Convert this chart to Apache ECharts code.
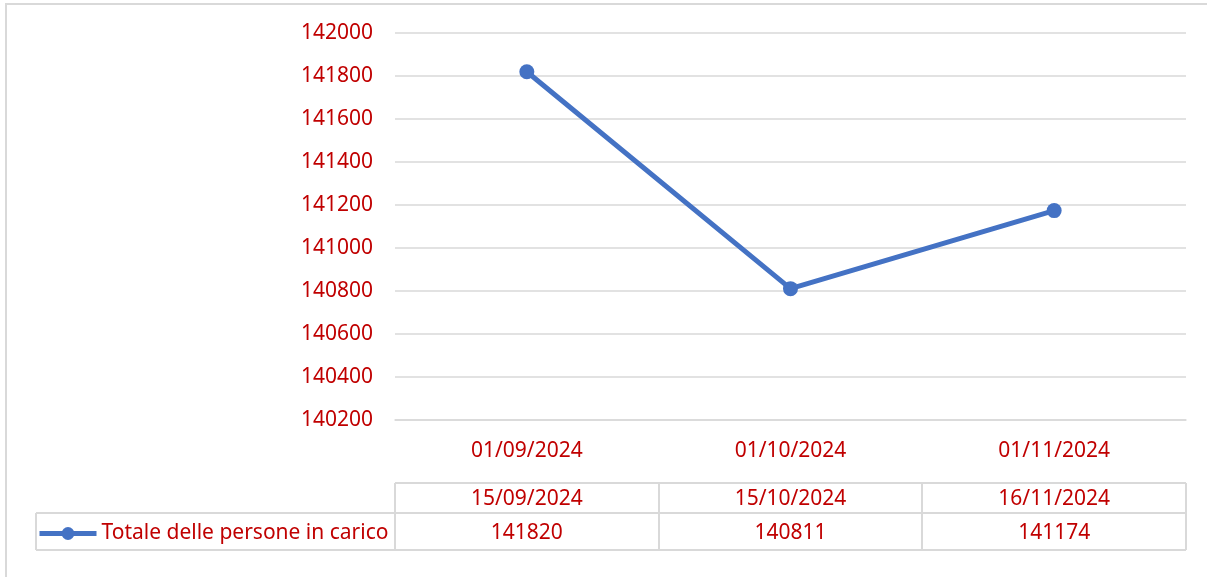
<!DOCTYPE html>
<html lang="it">
<head>
    <meta charset="UTF-8">
    <title>Totale delle persone in carico</title>
    <script src="https://cdn.jsdelivr.net/npm/echarts@6/dist/echarts.min.js"></script>
    <style>
        html, body {
            margin: 0;
            padding: 0;
            background: #fff;
        }
        #box {
            width: 1207px;
            height: 577px;
        }
    </style>
</head>
<body>
<div id="box"></div>
<script>
    // dati del grafico
    var startDates = ['01/09/2024', '01/10/2024', '01/11/2024'];
    var endDates = ['15/09/2024', '15/10/2024', '16/11/2024'];
    var totale = [141820, 140811, 141174];
    var seriesName = 'Totale delle persone in carico';
    var yMin = 140200, yMax = 142000, yStep = 200;

    var red = '#C00000';
    var blue = '#4472C4';
    var gray = '#D9D9D9';
    var font = 'Noto Sans';
    var fs = 21;

    var myChart = echarts.init(document.getElementById('box'));

    var option = {
        animation: false,
        textStyle: { fontFamily: font },
        grid: {
            left: 395,
            right: 21,
            top: 33,
            bottom: 157,
            containLabel: false,
            outerBoundsMode: 'none'
        },
        legend: {
            left: 37,
            top: 523,
            padding: 0,
            itemWidth: 57,
            itemHeight: 16,
            lineStyle: { width: 5 },
            textStyle: { color: red, fontSize: fs, fontFamily: font },
            data: [seriesName]
        },
        xAxis: [
            {
                type: 'category',
                data: startDates,
                axisLine: { lineStyle: { color: gray, width: 1.5 } },
                axisTick: { length: 6, lineStyle: { color: gray, width: 1.5 } },
                axisLabel: { color: red, fontSize: fs, margin: 21 }
            },
            {
                type: 'category',
                data: endDates,
                position: 'bottom',
                offset: 69,
                axisLine: { show: false },
                axisTick: { show: false },
                axisLabel: { color: red, fontSize: fs, margin: 0 }
            },
            {
                type: 'category',
                data: totale,
                position: 'bottom',
                offset: 103,
                axisLine: { show: false },
                axisTick: { show: false },
                axisLabel: { color: red, fontSize: fs, margin: 0 }
            }
        ],
        yAxis: {
            type: 'value',
            min: yMin,
            max: yMax,
            interval: yStep,
            axisLine: { show: false },
            axisTick: { show: false },
            axisLabel: {
                color: red,
                fontSize: fs,
                margin: 22,
                formatter: function (v) { return String(v); }
            },
            splitLine: { lineStyle: { color: gray, width: 1.5 } }
        },
        series: [
            {
                name: seriesName,
                type: 'line',
                data: totale,
                symbol: 'circle',
                symbolSize: 15,
                lineStyle: { color: blue, width: 5 },
                itemStyle: { color: blue }
            }
        ]
    };
    myChart.setOption(option);

    // tabella dati: bordi calcolati dalle posizioni dell'asse
    var c0 = myChart.convertToPixel({ xAxisIndex: 0 }, 0);
    var c1 = myChart.convertToPixel({ xAxisIndex: 0 }, 1);
    var half = (c1 - c0) / 2;
    var edges = [];
    for (var i = 0; i <= startDates.length; i++) {
        edges.push(Math.round(c0 - half + i * half * 2));
    }
    var yHead = 483, yMid = 513, yBot = 550, xLeg = 36;
    var lines = [];
    function seg(x1, y1, x2, y2) {
        lines.push({
            type: 'line',
            shape: { x1: x1, y1: y1, x2: x2, y2: y2 },
            style: { stroke: gray, lineWidth: 2 },
            silent: true
        });
    }
    var xEnd = edges[edges.length - 1];
    seg(edges[0], yHead, xEnd, yHead);
    seg(xLeg, yMid, xEnd, yMid);
    seg(xLeg, yBot, xEnd, yBot);
    seg(xLeg, yMid, xLeg, yBot);
    for (var j = 0; j < edges.length; j++) {
        seg(edges[j], yHead, edges[j], yBot);
    }
    // bordo esterno dell'area grafico
    lines.push({
        type: 'rect',
        shape: { x: 6, y: 4, width: 1220, height: 600 },
        style: { fill: 'none', stroke: gray, lineWidth: 2 },
        silent: true
    });
    myChart.setOption({ graphic: lines });
</script>
</body>
</html>
